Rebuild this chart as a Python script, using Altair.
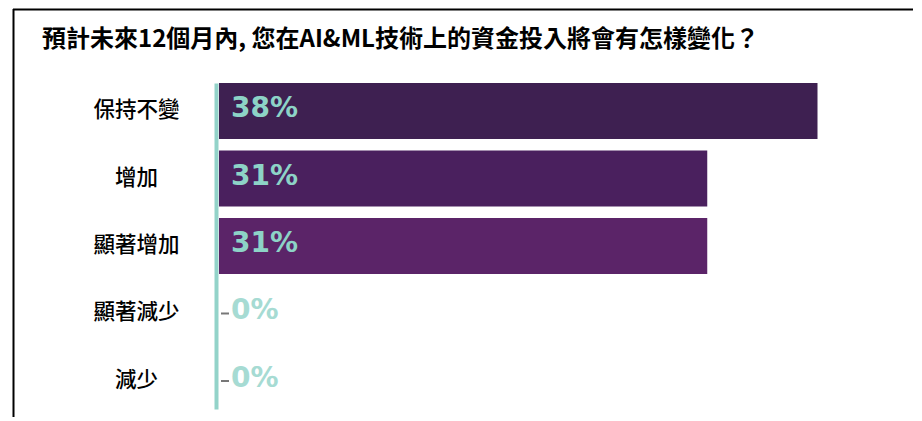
import altair as alt
import pandas as pd

categories = ["保持不變", "增加", "顯著增加", "顯著減少", "減少"]
values = [38, 31, 31, 0, 0]
bar_colors = ["#3e2051", "#4a205e", "#5b2468", "#5b2468", "#5b2468"]
title_text = "預計未來12個月內, 您在AI&ML技術上的資金投入將會有怎樣變化？"

df = pd.DataFrame({"cat": categories, "value": values})

CJK = "Noto Sans CJK TC"
TEAL = "#8dd3c7"

y_enc = alt.Y(
    "cat:N",
    sort=categories,
    scale=alt.Scale(paddingInner=0.17, paddingOuter=0),
    axis=alt.Axis(
        title=None,
        domainColor="#93d3c9",
        domainWidth=4,
        ticks=False,
        offset=3,
        labelPadding=80,
        labelAlign="center",
        labelBaseline="middle",
        labelFont=CJK,
        labelFontSize=21.5,
        labelFontWeight=500,
        labelColor="#000000",
        grid=False,
    ),
)
x_scale = alt.Scale(domain=[0, 40])

base = alt.Chart(df)

dash = base.mark_rule(color="#777777", strokeWidth=2).encode(
    y=alt.Y("cat:N", sort=categories, bandPosition=0.5),
    x=alt.value(2),
    x2=alt.value(10),
)

bars = base.mark_bar().encode(
    y=y_enc,
    x=alt.X("value:Q", scale=x_scale, axis=None),
    color=alt.Color(
        "cat:N",
        scale=alt.Scale(domain=categories, range=bar_colors),
        legend=None,
    ),
)

labels = base.transform_calculate(
    label="datum.value + '%'"
).mark_text(
    align="left", baseline="middle", dx=12, dy=-2,
    font="DejaVu Sans", fontWeight="bold", fontSize=28,
).encode(
    y=alt.Y("cat:N", sort=categories),
    x=alt.value(0),
    text="label:N",
    color=alt.condition(alt.datum.value == 0, alt.value("#a6dbd3"), alt.value(TEAL)),
)

border_top = alt.Chart(pd.DataFrame({"k": [0]})).mark_rule(color="#000000", strokeWidth=2).encode(
    x=alt.value(-206), x2=alt.value(700), y=alt.value(-73.5)
)
border_left = alt.Chart(pd.DataFrame({"k": [0]})).mark_rule(color="#000000", strokeWidth=2).encode(
    x=alt.value(-205.5), y=alt.value(-74), y2=alt.value(334)
)

chart = alt.layer(border_top, border_left, dash, bars, labels).properties(
    width=630,
    height=326,
    background="#ffffff",
    title=alt.TitleParams(
        title_text,
        anchor="start",
        dx=30,
        offset=-44,
        font=CJK,
        fontSize=24,
        fontWeight="bold",
        color="#000000",
    ),
    autosize=alt.AutoSizeParams(type="none"),
    padding={"left": 211, "top": 75, "right": 64, "bottom": 12},
).configure_view(strokeWidth=0, stroke="transparent")

chart.save("out.html", embed_options={"renderer": "svg", "actions": False})
